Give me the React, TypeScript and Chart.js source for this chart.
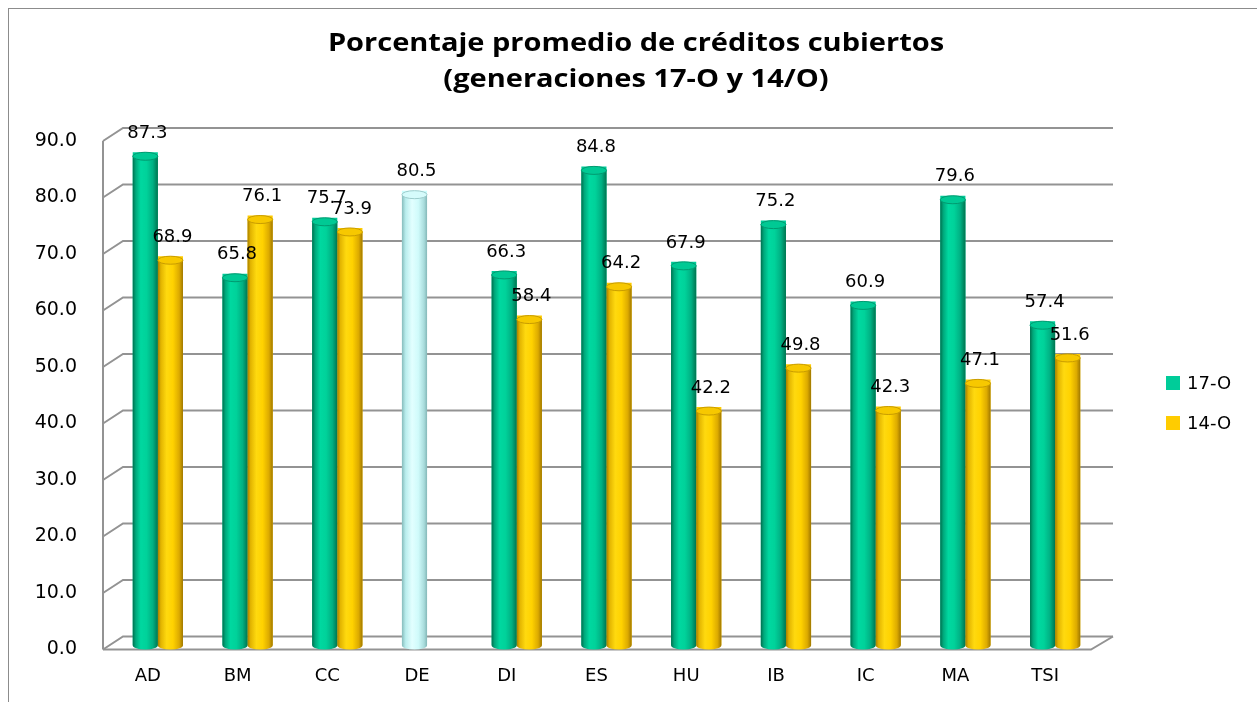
import React, { useEffect, useRef } from "react";
import { Chart, registerables } from "chart.js";

Chart.register(...registerables);

const TITLE_LINES = ["Porcentaje promedio de créditos cubiertos", "(generaciones 17-O y 14/O)"];
const CATEGORIES = ["AD", "BM", "CC", "DE", "DI", "ES", "HU", "IB", "IC", "MA", "TSI"];
const SERIES_NAMES = ["17-O", "14-O"];
const VALUES_17O = [87.3, 65.8, 75.7, 80.5, 66.3, 84.8, 67.9, 75.2, 60.9, 79.6, 57.4];
const VALUES_14O: (number | null)[] = [68.9, 76.1, 73.9, null, 58.4, 64.2, 42.2, 49.8, 42.3, 47.1, 51.6];
const Y_TICKS = [0, 10, 20, 30, 40, 50, 60, 70, 80, 90];

const GREEN = "#00CC99";
const YELLOW = "#FFCC00";
const CYAN = "#CCFFFF";
const COLORS_17O = CATEGORIES.map((c) => (c === "DE" ? CYAN : GREEN));
const COLORS_14O = CATEGORIES.map(() => YELLOW);

const FONT = "'DejaVu Sans', 'Open Sans', sans-serif";
const TITLE_FONT = "'Open Sans', 'DejaVu Sans', sans-serif";

const SHADES: Record<string, { body: [number, string][]; cap: string; rim: string }> = {
  [GREEN]: {
    body: [
      [0, "#00704f"],
      [0.12, "#00a87b"],
      [0.32, "#00d8a0"],
      [0.55, "#00d29a"],
      [0.8, "#00b083"],
      [1, "#00744f"],
    ],
    cap: "#00c994",
    rim: "#009a70",
  },
  [YELLOW]: {
    body: [
      [0, "#a67e00"],
      [0.12, "#e2b400"],
      [0.35, "#ffd90f"],
      [0.6, "#ffd200"],
      [0.85, "#dcaa00"],
      [1, "#a07800"],
    ],
    cap: "#f7c800",
    rim: "#c89c00",
  },
  [CYAN]: {
    body: [
      [0, "#86bcbc"],
      [0.15, "#b9eded"],
      [0.4, "#e2ffff"],
      [0.65, "#d0fbfb"],
      [0.88, "#a9dcdc"],
      [1, "#84b8b8"],
    ],
    cap: "#d5fbfb",
    rim: "#9ccccc",
  },
};

const cylinderPlugin = {
  id: "cylinders",
  afterDatasetsDraw(chart: any) {
    const ctx = chart.ctx;
    chart.data.datasets.forEach((ds: any, di: number) => {
      const meta = chart.getDatasetMeta(di);
      meta.data.forEach((bar: any, i: number) => {
        const v = ds.data[i];
        if (v === null || v === undefined) return;
        const { x, y, base, width } = bar.getProps(["x", "y", "base", "width"], true);
        const color = Array.isArray(ds.backgroundColor) ? ds.backgroundColor[i] : ds.backgroundColor;
        const sh = SHADES[color] || SHADES[GREEN];
        const left = x - width / 2;
        const rx = width / 2;
        const ry = 4;
        const g = ctx.createLinearGradient(left, 0, left + width, 0);
        sh.body.forEach(([o, c]) => g.addColorStop(o, c));
        ctx.save();
        ctx.beginPath();
        ctx.moveTo(left, y + ry);
        ctx.lineTo(left, base);
        ctx.ellipse(x, base, rx, ry, 0, Math.PI, 0, true);
        ctx.lineTo(left + width, y + ry);
        ctx.closePath();
        ctx.fillStyle = g;
        ctx.fill();
        ctx.beginPath();
        ctx.ellipse(x, y + ry, rx, ry, 0, 0, Math.PI * 2);
        ctx.fillStyle = sh.cap;
        ctx.fill();
        ctx.lineWidth = 1;
        ctx.strokeStyle = sh.rim;
        ctx.stroke();
        ctx.restore();
      });
    });
  },
};

const gridPlugin = {
  id: "grid3d",
  beforeDatasetsDraw(chart: any) {
    const ctx = chart.ctx;
    const ys = chart.scales.y;
    const frontLeft = 94;
    const backLeft = 114;
    const backRight = 1104;
    const frontRight = 1082;
    const fy = (v: number) => ys.getPixelForValue(v) + 4;
    const by = (v: number) => ys.getPixelForValue(v) - 9;
    ctx.save();
    ctx.strokeStyle = "#939393";
    ctx.lineWidth = 2;
    Y_TICKS.forEach((v) => {
      ctx.beginPath();
      ctx.moveTo(frontLeft, fy(v));
      ctx.lineTo(backLeft, by(v));
      ctx.lineTo(backRight, by(v));
      ctx.stroke();
    });
    ctx.beginPath();
    ctx.moveTo(frontLeft, fy(0));
    ctx.lineTo(frontLeft, fy(Y_TICKS[Y_TICKS.length - 1]));
    ctx.stroke();
    ctx.beginPath();
    ctx.moveTo(frontLeft, fy(0));
    ctx.lineTo(frontRight, fy(0));
    ctx.lineTo(backRight, by(0));
    ctx.stroke();
    ctx.restore();
  },
};

const labelsPlugin = {
  id: "extras",
  afterDraw(chart: any) {
    const ctx = chart.ctx;
    ctx.save();
    ctx.font = `18px ${FONT}`;
    ctx.fillStyle = "#000";
    ctx.textAlign = "center";
    ctx.textBaseline = "middle";
    chart.data.datasets.forEach((ds: any, di: number) => {
      const meta = chart.getDatasetMeta(di);
      meta.data.forEach((bar: any, i: number) => {
        const v = ds.data[i];
        if (v === null || v === undefined) return;
        const { x, y } = bar.getProps(["x", "y"], true);
        ctx.fillText(v.toFixed(1), x + 2, y - 19);
      });
    });
    ctx.font = `bold 25px ${TITLE_FONT}`;
    TITLE_LINES.forEach((t, i) => {
      ctx.save();
      ctx.translate(627, 35 + i * 36);
      ctx.scale(1.16, 1);
      ctx.fillText(t, 0, 0);
      ctx.restore();
    });
    ctx.textAlign = "left";
    ctx.font = `18px ${FONT}`;
    chart.data.datasets.forEach((ds: any, di: number) => {
      const cy = 374 + di * 40;
      const col = Array.isArray(ds.backgroundColor) ? ds.backgroundColor[0] : ds.backgroundColor;
      ctx.fillStyle = col;
      ctx.fillRect(1157, cy - 7, 14, 14);
      ctx.fillStyle = "#000";
      ctx.fillText(ds.label, 1178, cy + 1);
    });
    ctx.restore();
  },
};

export default function App() {
  const ref = useRef<HTMLCanvasElement | null>(null);
  useEffect(() => {
    if (!ref.current) return;
    const chart = new Chart(ref.current, {
      type: "bar",
      data: {
        labels: CATEGORIES,
        datasets: [
          { label: SERIES_NAMES[0], data: VALUES_17O, backgroundColor: COLORS_17O, borderWidth: 0 },
          { label: SERIES_NAMES[1], data: VALUES_14O as any, backgroundColor: COLORS_14O, borderWidth: 0 },
        ],
      },
      options: {
        animation: false,
        responsive: false,
        layout: { padding: { top: 128, right: 157, left: 0, bottom: 0 } },
        datasets: { bar: { categoryPercentage: 0.56, barPercentage: 1 } },
        plugins: { legend: { display: false }, title: { display: false }, tooltip: { enabled: false } },
        scales: {
          x: {
            grid: { display: false, drawTicks: false },
            border: { display: false },
            ticks: { font: { family: FONT, size: 18 }, color: "#000", padding: 20, labelOffset: -10 },
            afterFit: (s: any) => {
              s.height = 56.5;
            },
          },
          y: {
            min: 0,
            max: 90,
            grid: { display: false, drawTicks: false },
            border: { display: false },
            ticks: {
              stepSize: 10,
              font: { family: FONT, size: 19 },
              color: "#000",
              padding: 36,
              labelOffset: 4,
              callback: (v: any) => Number(v).toFixed(1),
            },
            afterFit: (s: any) => {
              s.width = 104;
            },
          },
        },
      },
      plugins: [gridPlugin, cylinderPlugin, labelsPlugin],
    });
    return () => chart.destroy();
  }, []);
  return (
    <div
      style={{
        position: "fixed",
        left: 8,
        top: 8,
        width: 1249,
        height: 694,
        borderLeft: "1px solid #8c8c8c",
        borderTop: "1px solid #8c8c8c",
        boxSizing: "border-box",
        background: "#fff",
      }}
    >
      <canvas ref={ref} width={1248} height={693} style={{ display: "block", width: 1248, height: 693 }} />
    </div>
  );
}
